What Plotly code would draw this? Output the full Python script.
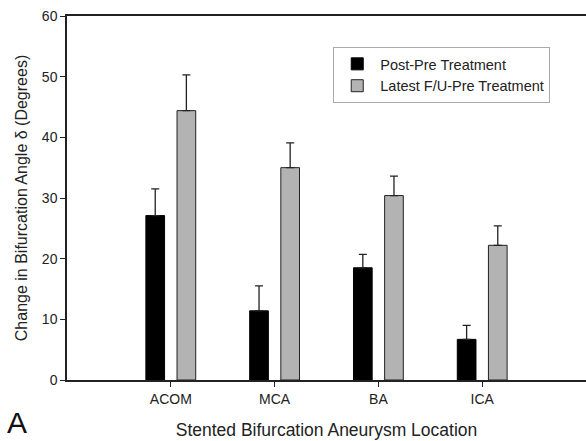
import plotly.graph_objects as go

categories = ["ACOM", "MCA", "BA", "ICA"]
post_pre = [27.1, 11.4, 18.5, 6.7]
post_pre_err = [4.4, 4.1, 2.2, 2.3]
latest_pre = [44.4, 35.0, 30.4, 22.2]
latest_pre_err = [5.9, 4.1, 3.2, 3.2]
y_ticks = [0, 10, 20, 30, 40, 50, 60]

FONT = "Liberation Sans, Arial, sans-serif"
x_pos = list(range(1, len(categories) + 1))

fig = go.Figure()
fig.add_trace(go.Bar(
    x=x_pos, y=post_pre, name="Post-Pre Treatment",
    width=0.18, offset=-0.24,
    marker=dict(color="black", line=dict(color="black", width=1)),
    error_y=dict(type="data", array=post_pre_err, symmetric=False,
                 arrayminus=[0] * 4, color="#222", thickness=1.3, width=4),
))
fig.add_trace(go.Bar(
    x=x_pos, y=latest_pre, name="Latest F/U-Pre Treatment",
    width=0.18, offset=0.06,
    marker=dict(color="#b3b3b3", line=dict(color="#222", width=1)),
    error_y=dict(type="data", array=latest_pre_err, symmetric=False,
                 arrayminus=[0] * 4, color="#222", thickness=1.3, width=4),
))

fig.update_layout(
    template="none",
    width=586, height=441,
    margin=dict(l=67, r=0, t=16, b=61),
    paper_bgcolor="white", plot_bgcolor="white",
    font=dict(family=FONT, size=14, color="#222"),
    barmode="overlay",
    legend=dict(x=0.513, y=0.915, xanchor="left", yanchor="top",
                bordercolor="#aaa", borderwidth=1, bgcolor="white",
                font=dict(size=14.5, color="#222"), tracegroupgap=0,
                itemwidth=36),
    showlegend=True,
    xaxis=dict(
        range=[0, 5], tickmode="array", tickvals=x_pos, ticktext=categories,
        showline=True, linecolor="#222", linewidth=1.5, mirror=True,
        ticks="outside", ticklen=5, tickcolor="#222", showgrid=False,
        zeroline=False, tickfont=dict(size=14),
        title=dict(text="Stented Bifurcation Aneurysm Location",
                   font=dict(size=17.5, color="#222"), standoff=18),
    ),
    yaxis=dict(
        range=[0, 60], tickmode="array", tickvals=y_ticks,
        showline=True, linecolor="#222", linewidth=1.5, mirror=False,
        ticks="outside", ticklen=5, tickcolor="#222", showgrid=False,
        zeroline=False, tickfont=dict(size=14),
        title=dict(text="Change in Bifurcation Angle δ (Degrees)",
                   font=dict(size=16, color="#222"), standoff=10),
    ),
    annotations=[dict(text="A", xref="paper", yref="paper", x=-0.12, y=-0.118,
                      xanchor="left", yanchor="middle", showarrow=False,
                      font=dict(size=30, color="#111", family=FONT))],
)

fig.write_html("out.html")
